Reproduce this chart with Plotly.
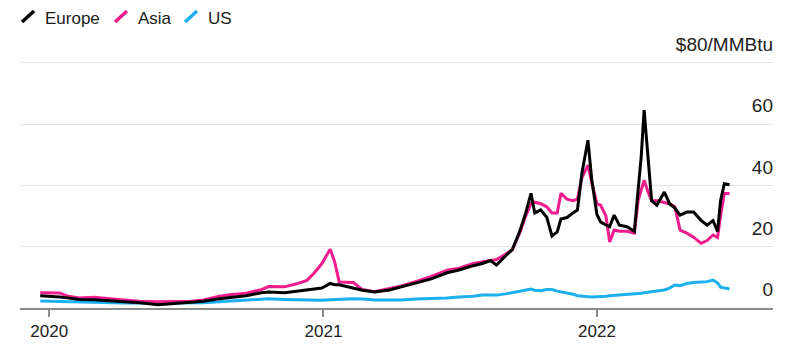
import plotly.graph_objects as go

dates = [
    "2019-12-20", "2020-01-05", "2020-01-15", "2020-01-25", "2020-02-10", "2020-03-01",
    "2020-03-20", "2020-04-10", "2020-05-01", "2020-05-25", "2020-06-15", "2020-07-05",
    "2020-07-25", "2020-08-15", "2020-09-01", "2020-09-20", "2020-10-10", "2020-10-20",
    "2020-11-10", "2020-11-25", "2020-12-10", "2020-12-20", "2020-12-30", "2021-01-10",
    "2021-01-16", "2021-01-22", "2021-02-10", "2021-02-22", "2021-03-10", "2021-03-30",
    "2021-04-15", "2021-05-05", "2021-05-25", "2021-06-15", "2021-07-01", "2021-07-20",
    "2021-08-01", "2021-08-12", "2021-08-20", "2021-09-01", "2021-09-10", "2021-09-20",
    "2021-09-28", "2021-10-05", "2021-10-10", "2021-10-18", "2021-10-26", "2021-11-02",
    "2021-11-09", "2021-11-14", "2021-11-22", "2021-11-30", "2021-12-06", "2021-12-12",
    "2021-12-20", "2021-12-25", "2022-01-01", "2022-01-06", "2022-01-13", "2022-01-18",
    "2022-01-24", "2022-01-31", "2022-02-10", "2022-02-20", "2022-02-25", "2022-03-01",
    "2022-03-05", "2022-03-10", "2022-03-15", "2022-03-22", "2022-04-01", "2022-04-08",
    "2022-04-15", "2022-04-22", "2022-05-01", "2022-05-10", "2022-05-20", "2022-05-28",
    "2022-06-05", "2022-06-11", "2022-06-15", "2022-06-20", "2022-06-27",
]

europe = [
    4.0, 3.9, 3.6, 3.3, 2.8, 2.7,
    2.4, 2.1, 1.7, 1.1, 1.5, 1.8,
    2.2, 3.0, 3.5, 4.0, 5.0, 5.2,
    5.0, 5.4, 5.9, 6.2, 6.5, 8.0,
    7.6, 7.6, 6.5, 5.8, 5.2, 5.9,
    6.9, 8.2, 9.5, 11.5, 12.4, 13.8,
    14.5, 15.5, 14.0, 17.0, 19.0, 25.0,
    31.0, 37.4, 31.0, 32.0, 29.6, 23.5,
    24.8, 29.0, 29.5, 31.0, 32.0, 44.0,
    54.7, 42.0, 30.5, 28.0, 27.0, 26.5,
    30.3, 27.0, 26.5, 25.0, 38.5, 49.0,
    64.5, 49.0, 35.0, 33.5, 37.8, 34.0,
    32.6, 30.3, 31.3, 31.3, 28.6, 27.0,
    28.5, 25.0, 35.0, 40.5, 40.2,
]

asia = [
    5.0, 5.0, 4.9, 3.9, 3.3, 3.5,
    3.0, 2.6, 2.2, 2.0, 2.1, 2.1,
    2.6, 3.8, 4.4, 4.8, 6.0, 7.0,
    6.9, 7.8, 9.0, 11.5, 14.5, 19.2,
    15.0, 8.5, 8.3, 6.0, 5.3, 6.3,
    7.2, 8.7, 10.3, 12.3, 13.0, 14.5,
    15.0, 15.6, 15.8, 17.5, 19.0, 24.5,
    30.0, 34.0, 34.5, 34.0, 33.0, 31.0,
    31.0, 37.4, 35.5, 35.0, 35.5, 42.5,
    46.6, 41.0, 34.0, 33.5, 30.0, 21.5,
    25.4, 25.0, 25.0, 24.4, 35.0, 38.4,
    41.7, 38.0, 35.0, 35.0, 34.4, 34.0,
    33.0, 25.4, 24.4, 23.1, 21.1, 22.0,
    23.8, 23.0, 30.0, 37.4, 37.3,
]

us = [
    2.3, 2.2, 2.1, 2.0, 1.8, 1.8,
    1.7, 1.6, 1.7, 1.5, 1.6, 1.6,
    1.7, 2.0, 2.3, 2.5, 2.9, 3.0,
    2.8, 2.7, 2.6, 2.7, 2.5, 2.7,
    2.8, 2.7, 3.0, 2.9, 2.6, 2.6,
    2.6, 2.9, 3.0, 3.3, 3.6, 3.8,
    4.2, 4.3, 4.2, 4.6, 5.0, 5.3,
    5.8, 6.2, 5.8, 5.6, 6.0, 6.0,
    5.5, 5.3, 5.0, 4.5, 4.0, 3.8,
    3.6, 3.6, 3.7, 3.7, 3.8, 4.0,
    4.1, 4.2, 4.4, 4.6, 4.8, 4.8,
    5.0, 5.2, 5.4, 5.6, 5.9, 6.5,
    7.5, 7.3, 8.0, 8.3, 8.5, 8.6,
    9.1, 8.2, 6.8, 6.5, 6.2,
]

series_names = ["Europe", "Asia", "US"]
series_colors = ["#000000", "#ee1c8c", "#1cb0ee"]

y_tickvals = [0, 20, 40, 60, 80]
y_ticktext = ["0", "20", "40", "60", "$80/MMBtu"]
x_tickvals = ["2020-01-01", "2021-01-01", "2022-01-01"]
x_ticktext = ["2020", "2021", "2022"]

FONT = "Liberation Sans, Arial, sans-serif"

fig = go.Figure()
for name, vals, col in [("US", us, series_colors[2]), ("Asia", asia, series_colors[1]),
                        ("Europe", europe, series_colors[0])]:
    fig.add_trace(go.Scatter(x=dates, y=vals, mode="lines", name=name,
                             line=dict(color=col, width=3), showlegend=False))

# figure geometry (page is offset by the 8px body margin)
W, H = 784, 345
ML, MR, MT, MB = 12, 19, 24, 45
PW = W - ML - MR
PH = H - MT - MB

# custom legend with slanted glyphs (pixel offsets from plot's left/top)
glyph_x = [2, 95, 165]
text_x = [24, 117, 187]
shapes = []
annotations = []
for gx, tx, name, col in zip(glyph_x, text_x, series_names, series_colors):
    shapes.append(dict(type="line", xref="paper", yref="paper",
                       xsizemode="pixel", ysizemode="pixel", xanchor=0, yanchor=1,
                       x0=gx, x1=gx + 12, y0=10, y1=21,
                       line=dict(color=col, width=3.5)))
    annotations.append(dict(text=name, xref="paper", yref="paper",
                            x=tx / PW, y=1 + 14 / PH, borderpad=0,
                            xanchor="left", yanchor="middle", showarrow=False,
                            font=dict(size=17, color="#1a1a1a", family=FONT)))

fig.update_layout(
    width=W, height=H,
    margin=dict(l=ML, r=MR, t=MT, b=MB),
    plot_bgcolor="white", paper_bgcolor="white",
    font=dict(family=FONT, size=17, color="#222"),
    shapes=shapes, annotations=annotations,
    xaxis=dict(
        type="date", range=["2019-11-23", "2022-08-24"],
        tickvals=x_tickvals, ticktext=x_ticktext,
        showgrid=False, showline=True, linecolor="#8c8c8c", linewidth=2,
        ticks="outside", ticklen=7, tickwidth=1.5, tickcolor="#8c8c8c",
        tickfont=dict(size=17, color="#222", family=FONT), zeroline=False,
    ),
    yaxis=dict(
        range=[0, 90], side="right", tickvals=y_tickvals, ticktext=y_ticktext,
        ticklabelposition="inside top", ticklabelshift=-5, ticklabelstandoff=-3,
        showgrid=True, gridcolor="#e3e3e3",
        gridwidth=1, zeroline=False, showline=False, ticks="",
        tickfont=dict(size=19, color="#222", family=FONT),
    ),
)

fig.write_html("out.html")
